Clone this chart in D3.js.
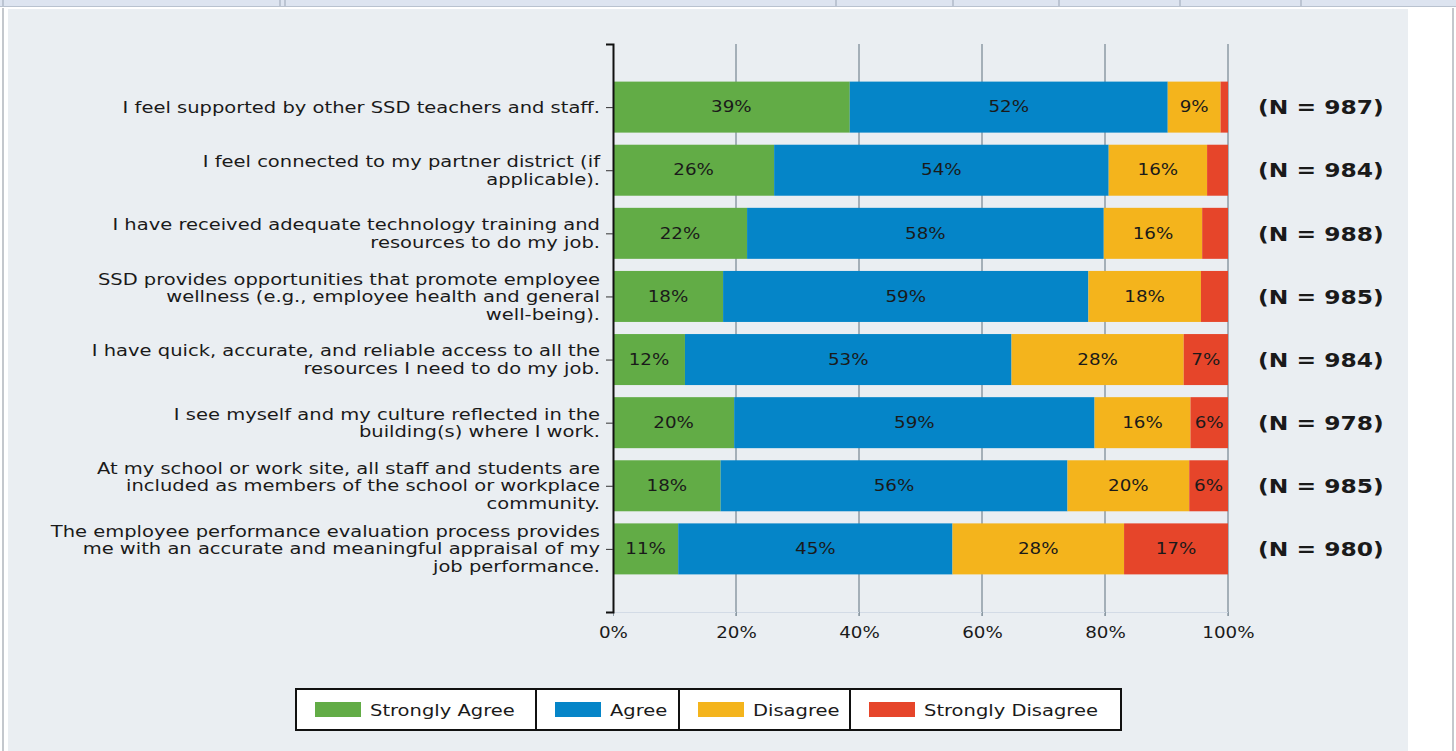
<!DOCTYPE html>
<html>
<head>
<meta charset="utf-8">
<script src="https://cdn.jsdelivr.net/npm/d3@7"></script>
<style>
  body { margin: 0; background: #fff; }
  svg { display: block; }
  text { font-family: "DejaVu Sans", Verdana, sans-serif; fill: #1a1a1a; }
</style>
</head>
<body>
<div id="chart"></div>
<script>
(function () {
// data
const questions = [
  ["I feel supported by other SSD teachers and staff."],
  ["I feel connected to my partner district (if", "applicable)."],
  ["I have received adequate technology training and", "resources to do my job."],
  ["SSD provides opportunities that promote employee", "wellness (e.g., employee health and general", "well-being)."],
  ["I have quick, accurate, and reliable access to all the", "resources I need to do my job."],
  ["I see myself and my culture reflected in the", "building(s) where I work."],
  ["At my school or work site, all staff and students are", "included as members of the school or workplace", "community."],
  ["The employee performance evaluation process provides", "me with an accurate and meaningful appraisal of my", "job performance."]
];
const responses = ["Strongly Agree", "Agree", "Disagree", "Strongly Disagree"];
const stronglyAgree = [38.5, 26.2, 21.8, 17.9, 11.7, 19.7, 17.5, 10.6];
const agree = [51.7, 54.4, 58.0, 59.4, 53.1, 58.6, 56.4, 44.6];
const disagree = [8.6, 16.0, 16.0, 18.3, 28.0, 15.6, 19.8, 27.9];
const stronglyDisagree = [1.2, 3.4, 4.2, 4.4, 7.2, 6.1, 6.3, 16.9];
const counts = [987, 984, 988, 985, 984, 978, 985, 980];
const xTicks = [0, 20, 40, 60, 80, 100];

const colors = ["#62ac46", "#0585c8", "#f4b41c", "#e6452a"];

const svgWidth = 1456, svgHeight = 751;
const margin = { top: 44, left: 613, right: 228, bottom: 139 };
const width = svgWidth - margin.left - margin.right;
const height = svgHeight - margin.top - margin.bottom;

// the source text is drawn wide, so stretch it sideways
const stretch = 1.22;

const svg = d3.select("#chart").append("svg")
  .attr("width", svgWidth)
  .attr("height", svgHeight);

// window frame
svg.append("rect").attr("x", 0).attr("y", 0).attr("width", svgWidth).attr("height", 6).attr("fill", "#dde4f0");
svg.append("line").attr("x1", 0).attr("x2", svgWidth).attr("y1", 6.5).attr("y2", 6.5).attr("stroke", "#b9c2cf");
[3, 280, 285, 836, 953, 1059, 1180, 1301].forEach(px => {
  svg.append("line").attr("x1", px).attr("x2", px).attr("y1", 0).attr("y2", 6).attr("stroke", "#9aa5b5");
});
svg.append("line").attr("x1", 3).attr("x2", 3).attr("y1", 8).attr("y2", svgHeight).attr("stroke", "#b0b6bd").attr("stroke-width", 1.5);
svg.append("line").attr("x1", 1453).attr("x2", 1453).attr("y1", 8).attr("y2", svgHeight).attr("stroke", "#b0b6bd").attr("stroke-width", 1.5);
svg.append("rect").attr("x", 8).attr("y", 9).attr("width", 1400).attr("height", svgHeight - 9).attr("fill", "#eaeef2");

const g = svg.append("g").attr("transform", `translate(${margin.left}, ${margin.top})`);

// scales
const x = d3.scaleLinear().domain([0, 100]).range([0, width]);
const y = d3.scalePoint().domain(d3.range(questions.length)).range([0, height]).padding(1);
const barH = 51;

// stack
const rows = questions.map((q, i) => ({
  i,
  "Strongly Agree": stronglyAgree[i],
  "Agree": agree[i],
  "Disagree": disagree[i],
  "Strongly Disagree": stronglyDisagree[i]
}));
const series = d3.stack().keys(responses)(rows);

// gridlines
g.append("g")
  .selectAll("line")
  .data(xTicks.slice(1))
  .join("line")
  .attr("x1", d => x(d)).attr("x2", d => x(d))
  .attr("y1", 0).attr("y2", height + 4)
  .attr("stroke", "#8c9aa4")
  .attr("stroke-width", 1.5);

// bars
const layer = g.selectAll(".layer")
  .data(series)
  .join("g")
  .attr("fill", (d, k) => colors[k]);

layer.selectAll("rect")
  .data(d => d)
  .join("rect")
  .attr("x", d => x(d[0]))
  .attr("width", d => x(d[1]) - x(d[0]))
  .attr("y", d => y(d.data.i) - barH / 2)
  .attr("height", barH);

layer.selectAll("text")
  .data(d => d.filter(s => s[1] - s[0] >= 5))
  .join("text")
  .attr("transform", d => `translate(${(x(d[0]) + x(d[1])) / 2}, ${y(d.data.i)}) scale(${stretch}, 1)`)
  .attr("dy", "0.35em")
  .attr("text-anchor", "middle")
  .style("font-size", "15px")
  .text(d => Math.round(d[1] - d[0] + 0.001) + "%");

// x axis
const xAxis = g.append("g")
  .attr("transform", `translate(0, ${height})`)
  .call(d3.axisBottom(x).tickValues(xTicks).tickSize(4).tickFormat(d => d + "%"));
xAxis.select(".domain").attr("stroke", "#d3dbe6");
xAxis.selectAll(".tick line").attr("stroke", "#8c9aa4");
xAxis.selectAll("text")
  .attr("y", 0)
  .attr("dy", 0)
  .attr("transform", `translate(0, 26) scale(${stretch}, 1)`)
  .style("font-size", "15px")
  .style("font-family", "DejaVu Sans, sans-serif")
  .attr("fill", "#1a1a1a");

// y axis
const yAxis = g.append("g")
  .call(d3.axisLeft(y).tickSize(7).tickSizeOuter(7).tickFormat(""));
yAxis.select(".domain").attr("stroke", "#111").attr("stroke-width", 2);
yAxis.selectAll(".tick line").attr("stroke", "#333");

// category labels
const lineH = 17.5;
g.append("g")
  .attr("transform", `translate(-13, 0) scale(${stretch}, 1)`)
  .selectAll("text")
  .data(questions)
  .join("text")
  .attr("text-anchor", "end")
  .style("font-size", "16px")
  .each(function (lines, i) {
    const t = d3.select(this);
    const y0 = y(i) - (lines.length - 1) * lineH / 2;
    lines.forEach((ln, j) => {
      t.append("tspan")
        .attr("x", 0)
        .attr("y", y0 + j * lineH)
        .attr("dy", "0.35em")
        .text(ln);
    });
  });

// N labels
g.append("g")
  .selectAll("text")
  .data(counts)
  .join("text")
  .attr("transform", (d, i) => `translate(${x(100) + 30}, ${y(i)}) scale(1.17, 1)`)
  .attr("dy", "0.36em")
  .style("font-size", "20px")
  .style("font-weight", "bold")
  .text(d => `(N = ${d})`);

// legend
const legendCells = [240, 143, 171, 271];
const legend = svg.append("g").attr("transform", "translate(296, 689)");
let cx = 0;
legendCells.forEach((w, k) => {
  const cell = legend.append("g").attr("transform", `translate(${cx}, 0)`);
  cell.append("rect")
    .attr("width", w).attr("height", 41)
    .attr("fill", "#fff")
    .attr("stroke", "#111").attr("stroke-width", 2);
  cell.append("rect")
    .attr("x", 19).attr("y", 13)
    .attr("width", 46).attr("height", 15)
    .attr("fill", colors[k]);
  cell.append("text")
    .attr("transform", `translate(74, 21) scale(${stretch}, 1)`)
    .attr("dy", "0.35em")
    .style("font-size", "16px")
    .text(responses[k]);
  cx += w;
});
})();
</script>
</body>
</html>
